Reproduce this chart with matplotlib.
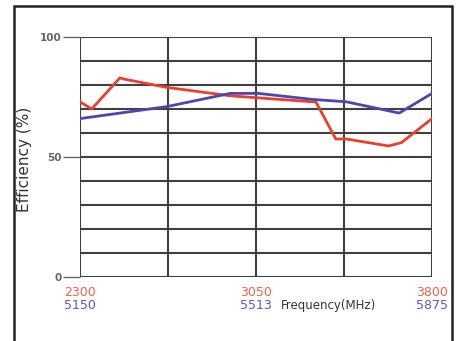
import matplotlib.pyplot as plt
from matplotlib.patches import Rectangle

# x in MHz of the lower (red) band axis
red_x = [2300, 2350, 2470, 2485, 2670, 2940, 3290, 3305, 3390, 3435, 3615, 3670, 3800]
red_eff = [73, 70, 83, 82.5, 79, 75.5, 73, 73, 57.5, 57.5, 54.6, 56, 66]
blue_x = [2300, 2670, 2940, 3060, 3290, 3435, 3660, 3800]
blue_eff = [66, 71, 76.5, 76.5, 74, 73, 68.3, 76.5]

red_ticks = ['2300', '3050', '3800']
blue_ticks = ['5150', '5513', '5875']


def main():
    fig = plt.figure(figsize=(4.59, 3.41), dpi=100)
    ax = fig.add_axes([0.1743, 0.1877, 0.7669, 0.7038])

    # outer frame
    fig.patches.append(Rectangle((0.031, -0.05), 0.954, 1.032, transform=fig.transFigure,
                                 fill=False, edgecolor='#222222', linewidth=1.8))

    ax.plot(red_x, red_eff, color='#e8402f', lw=2.0, zorder=3)
    ax.plot(blue_x, blue_eff, color='#4b47ad', lw=2.0, zorder=3)

    ax.set_xlim(2300, 3800)
    ax.set_ylim(0, 100)
    for y in range(0, 101, 10):
        ax.axhline(y, color='#404040', lw=1.5, zorder=1)
    for x in [2300, 2675, 3050, 3425, 3800]:
        ax.axvline(x, color='#404040', lw=1.5, zorder=1)
    for s in ax.spines.values():
        s.set_visible(False)

    ax.set_yticks([0, 50, 100])
    ax.set_yticklabels(['0', '50', '100'], fontsize=7.5, color='#666666', fontweight='bold')
    ax.tick_params(axis='y', length=12, width=1, color='#666666', pad=1)
    ax.set_xticks([])
    ax.set_ylabel('Efficiency (%)', fontsize=11, color='#333333')
    ax.yaxis.set_label_coords(-0.135, 0.49)

    for xv, lab in zip([2300, 3050, 3800], red_ticks):
        ax.text(xv, -6.5, lab, color='#f0604c', fontsize=9, ha='center', va='center')
    for xv, lab in zip([2300, 3050, 3800], blue_ticks):
        ax.text(xv, -12, lab, color='#5a58b8', fontsize=9, ha='center', va='center')
    ax.text(3360, -12, 'Frequency(MHz)', color='#333333', fontsize=8.5,
            ha='center', va='center')

    fig.savefig('out.png', dpi=100)


if __name__ == '__main__':
    main()
